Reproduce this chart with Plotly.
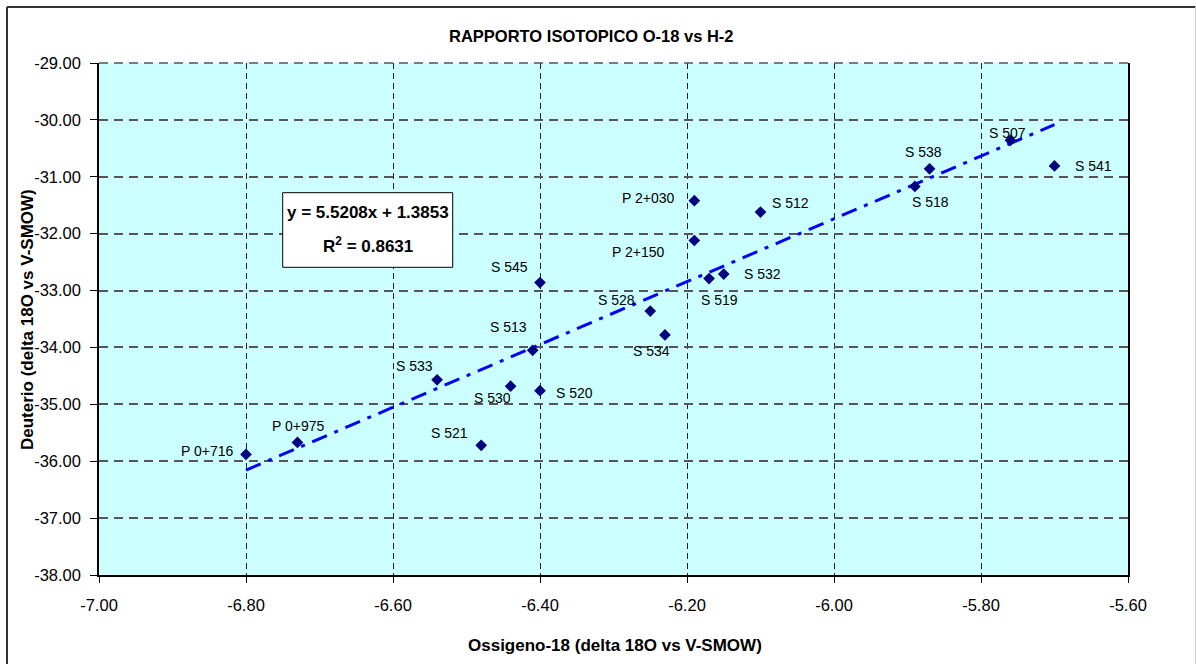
import plotly.graph_objects as go

# ---------------- data ----------------
labels = ["P 0+716", "P 0+975", "S 521", "S 533", "S 530", "S 520", "S 513", "S 545",
          "S 528", "S 534", "P 2+030", "P 2+150", "S 519", "S 532", "S 512", "S 518",
          "S 538", "S 507", "S 541"]
o18 = [-6.80, -6.73, -6.48, -6.54, -6.44, -6.40, -6.41, -6.40,
       -6.25, -6.23, -6.19, -6.19, -6.17, -6.15, -6.10, -5.89,
       -5.87, -5.76, -5.70]
h2 = [-35.88, -35.67, -35.72, -34.57, -34.68, -34.76, -34.05, -32.86,
      -33.36, -33.78, -31.42, -32.12, -32.79, -32.71, -31.62, -31.17,
      -30.86, -30.36, -30.81]

trend_slope = 5.5208
trend_intercept = 1.3853
trend_r2 = 0.8631

x_ticks = [-7.00, -6.80, -6.60, -6.40, -6.20, -6.00, -5.80, -5.60]
y_ticks = [-29.00, -30.00, -31.00, -32.00, -33.00, -34.00, -35.00, -36.00, -37.00, -38.00]
x_ticktext = [f"{v:.2f}" for v in x_ticks]
y_ticktext = [f"{v:.2f}" for v in y_ticks]

title_text = "RAPPORTO ISOTOPICO O-18 vs H-2"
x_title = "Ossigeno-18 (delta 18O vs V-SMOW)"
y_title = "Deuterio (delta 18O vs V-SMOW)"

# ---------------- label placement (styling) ----------------
label_pos = {
    "P 0+716": ("right", -10, 3),
    "P 0+975": ("center", 1, 16),
    "S 521": ("right", -11, 12),
    "S 533": ("right", -2, 14),
    "S 530": ("right", 2, -12),
    "S 520": ("left", 14, -2),
    "S 513": ("right", -4, 23),
    "S 545": ("right", -10, 16),
    "S 528": ("right", -13, 11),
    "S 534": ("right", 7, -16),
    "P 2+030": ("right", -17, 3),
    "P 2+150": ("right", -27, -12),
    "S 519": ("center", 10, -21),
    "S 532": ("left", 18, 0),
    "S 512": ("left", 9, 9),
    "S 518": ("center", 16, -16),
    "S 538": ("center", -6, 17),
    "S 507": ("center", -3, 7),
    "S 541": ("left", 18, 0),
}

FONT = "Liberation Sans, Arial, sans-serif"

W, H = 1196, 664
ML, MR, MT, MB = 99, 68, 63, 89
PW, PH = W - ML - MR, H - MT - MB


def px_to_paper_x(px):
    return (px - ML) / PW


def px_to_paper_y(py):
    return (H - MB - py) / PH


fig = go.Figure()

# trendline (linear, from chart's displayed equation)
tx = [min(o18), max(o18)]
ty = [trend_slope * v + trend_intercept for v in tx]
fig.add_trace(go.Scatter(
    x=tx, y=ty, mode="lines",
    line=dict(color="#0000FF", width=3, dash="16px,8px,4px,8px"),
    hoverinfo="skip", showlegend=False,
))

fig.add_trace(go.Scatter(
    x=o18, y=h2, mode="markers",
    marker=dict(symbol="diamond", size=9, color="#000080"),
    text=labels, showlegend=False,
))

annotations = []
for lab, xv, yv in zip(labels, o18, h2):
    anchor, dx, dy = label_pos[lab]
    annotations.append(dict(
        x=xv, y=yv, xref="x", yref="y", text=lab, showarrow=False,
        xanchor=anchor, yanchor="middle", xshift=dx, yshift=dy,
        font=dict(family=FONT, size=14, color="black"),
    ))

# title
annotations.append(dict(
    x=px_to_paper_x(591), y=px_to_paper_y(36), xref="paper", yref="paper",
    text=f"<b>{title_text}</b>", showarrow=False, xanchor="center", yanchor="middle",
    font=dict(family=FONT, size=16.5, color="black"),
))
# axis titles
annotations.append(dict(
    x=px_to_paper_x(615), y=px_to_paper_y(645), xref="paper", yref="paper",
    text=f"<b>{x_title}</b>", showarrow=False, xanchor="center", yanchor="middle",
    font=dict(family=FONT, size=17, color="black"),
))
annotations.append(dict(
    x=px_to_paper_x(27), y=px_to_paper_y(320), xref="paper", yref="paper",
    text=f"<b>{y_title}</b>", showarrow=False, xanchor="center", yanchor="middle",
    textangle=-90, font=dict(family=FONT, size=17, color="black"),
))
# equation box text
annotations.append(dict(
    x=px_to_paper_x(368), y=px_to_paper_y(212), xref="paper", yref="paper",
    text=f"<b>y = {trend_slope:.4f}x + {trend_intercept:.4f}</b>", showarrow=False,
    xanchor="center", yanchor="middle",
    font=dict(family=FONT, size=17, color="black"),
))
annotations.append(dict(
    x=px_to_paper_x(368), y=px_to_paper_y(245), xref="paper", yref="paper",
    text=f"<b>R<sup>2</sup> = {trend_r2:.4f}</b>", showarrow=False,
    xanchor="center", yanchor="middle",
    font=dict(family=FONT, size=17, color="black"),
))

shapes = [
    # equation box
    dict(type="rect", xref="paper", yref="paper",
         x0=px_to_paper_x(282.7), x1=px_to_paper_x(452.7),
         y0=px_to_paper_y(267.3), y1=px_to_paper_y(192.7),
         fillcolor="white", line=dict(color="black", width=1), layer="above"),
    # top dashed gridline at plot top
    dict(type="line", xref="paper", yref="paper", x0=0, x1=1, y0=1, y1=1,
         line=dict(color="#555555", width=1.5, dash="9px,6px"), layer="above"),
    # outer chart border
    dict(type="line", xref="paper", yref="paper",
         x0=px_to_paper_x(7), x1=px_to_paper_x(1195.5), y0=px_to_paper_y(7), y1=px_to_paper_y(7),
         line=dict(color="#333333", width=2)),
    dict(type="line", xref="paper", yref="paper",
         x0=px_to_paper_x(7), x1=px_to_paper_x(7), y0=px_to_paper_y(7), y1=px_to_paper_y(670),
         line=dict(color="#333333", width=2)),
    dict(type="line", xref="paper", yref="paper",
         x0=px_to_paper_x(1195.5), x1=px_to_paper_x(1195.5), y0=px_to_paper_y(7), y1=px_to_paper_y(670),
         line=dict(color="#CCCCCC", width=1)),
]

fig.update_layout(
    width=W, height=H, autosize=False,
    margin=dict(l=ML, r=MR, t=MT, b=MB, pad=0),
    paper_bgcolor="white", plot_bgcolor="#CCFFFF",
    showlegend=False,
    annotations=annotations, shapes=shapes,
    font=dict(family=FONT, color="black"),
)
fig.update_xaxes(
    range=[-7.0, -5.6], tickmode="array", tickvals=x_ticks, ticktext=x_ticktext,
    showline=True, linecolor="black", linewidth=1.5, mirror=False,
    ticks="outside", ticklen=6, tickcolor="black", tickwidth=1.2,
    showgrid=True, gridcolor="#222222", gridwidth=1, griddash="6px,4px",
    zeroline=False, tickfont=dict(family=FONT, size=16.5, color="black"),
    ticklabelstandoff=8,
)
fig.update_yaxes(
    range=[-38.0, -29.0], tickmode="array", tickvals=y_ticks, ticktext=y_ticktext,
    showline=True, linecolor="black", linewidth=1.5, mirror=True,
    ticks="outside", ticklen=7, tickcolor="black", tickwidth=1.2,
    showgrid=True, gridcolor="#555555", gridwidth=1.5, griddash="9px,6px",
    zeroline=False, tickfont=dict(family=FONT, size=16.5, color="black"),
    ticklabelstandoff=6,
)

fig.write_html("out.html", config={"displayModeBar": False},
               post_script="document.body.style.margin='0';")
